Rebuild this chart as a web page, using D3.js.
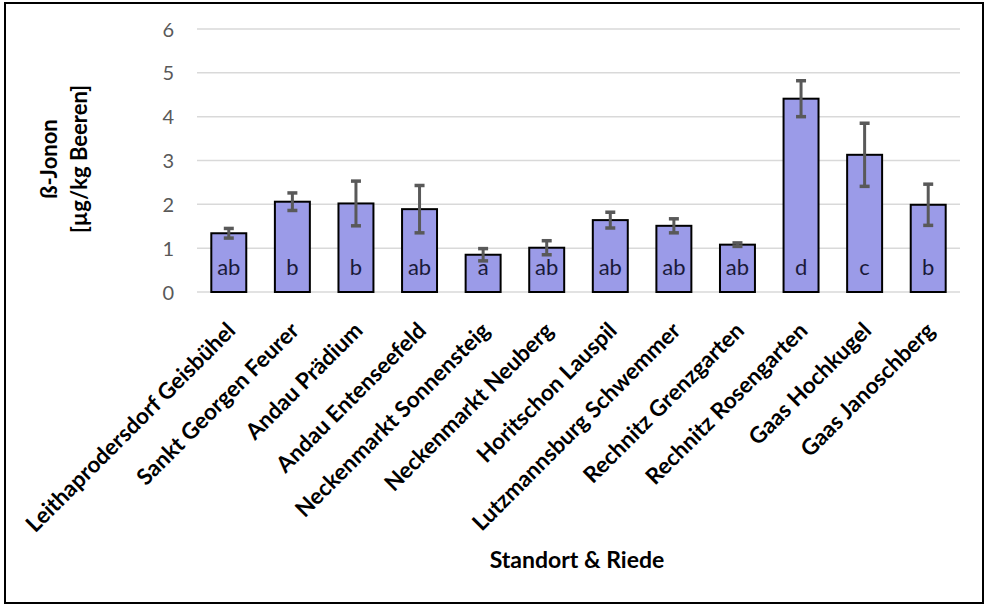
<!DOCTYPE html>
<html><head><meta charset="utf-8">
<script src="https://cdn.jsdelivr.net/npm/d3@7"></script>
<style>body{margin:0;background:#fff}</style>
</head><body>
<svg id="c" width="990" height="608"></svg>
<script>
const categories = ["Leithaprodersdorf Geisbühel","Sankt Georgen Feurer","Andau Prädium","Andau Entenseefeld","Neckenmarkt Sonnensteig","Neckenmarkt Neuberg","Horitschon Lauspil","Lutzmannsburg Schwemmer","Rechnitz Grenzgarten","Rechnitz Rosengarten","Gaas Hochkugel","Gaas Janoschberg"];
const values = [1.34, 2.06, 2.02, 1.89, 0.85, 1.01, 1.64, 1.51, 1.08, 4.41, 3.13, 1.99];
const errors = [0.11, 0.20, 0.51, 0.54, 0.14, 0.16, 0.18, 0.16, 0.04, 0.41, 0.72, 0.47];
const letters = ["ab","b","b","ab","a","ab","ab","ab","ab","d","c","b"];
const yTicks = [0,1,2,3,4,5,6];
const yTitle = ["ß-Jonon","[µg/kg Beeren]"];
const xTitle = "Standort & Riede";

const FONT = "Lato, 'Open Sans', sans-serif";
const svg = d3.select("#c");
const L = 197, R = 960, T = 29, B = 292;

svg.append("rect").attr("x",5).attr("y",3).attr("width",978).attr("height",600)
  .attr("fill","#fff").attr("stroke","#000").attr("stroke-width",2);

const x = d3.scaleBand().domain(categories).range([L,R]).paddingInner(0.45).paddingOuter(0.225);
const y = d3.scaleLinear().domain([0,6]).range([B,T]);

// gridlines
svg.append("g").selectAll("line").data(yTicks).join("line")
  .attr("x1",L).attr("x2",R).attr("y1",d=>y(d)).attr("y2",d=>y(d))
  .attr("stroke","#d9d9d9").attr("stroke-width",1.5);

// y tick labels
const yAxis = d3.axisLeft(y).tickValues(yTicks).tickSize(0).tickPadding(0).tickFormat(d3.format("d"));
const ya = svg.append("g").attr("transform",`translate(${L-23},0)`).call(yAxis);
ya.select(".domain").remove();
ya.selectAll("text").attr("font-family",FONT).attr("font-size",20).attr("fill","#595959").attr("dy","0.35em");

// bars
svg.append("g").selectAll("rect").data(values).join("rect")
  .attr("x",(d,i)=>x(categories[i])).attr("width",x.bandwidth())
  .attr("y",d=>y(d)).attr("height",d=>y(0)-y(d))
  .attr("fill","#9b9be8").attr("stroke","#000").attr("stroke-width",2);

// letters
svg.append("g").selectAll("text").data(letters).join("text")
  .attr("x",(d,i)=>x(categories[i])+x.bandwidth()/2).attr("y",275)
  .attr("text-anchor","middle").attr("font-family",FONT).attr("font-size",22)
  .attr("fill","#1a1a3a").text(d=>d);

// error bars
const eg = svg.append("g").attr("stroke","#595959");
values.forEach((v,i)=>{
  const cx = x(categories[i])+x.bandwidth()/2;
  const e = errors[i];
  eg.append("line").attr("x1",cx).attr("x2",cx).attr("y1",y(v+e)).attr("y2",y(v-e)).attr("stroke-width",3);
  [v+e, v-e].forEach(t=>{
    eg.append("line").attr("x1",cx-5).attr("x2",cx+5).attr("y1",y(t)).attr("y2",y(t)).attr("stroke-width",3.5);
  });
});

// x labels
svg.append("g").selectAll("text").data(categories).join("text")
  .attr("transform",d=>`translate(${x(d)+x.bandwidth()/2+8},332) rotate(-45)`)
  .attr("text-anchor","end").attr("font-family",FONT).attr("font-size",22.5).attr("font-weight","bold")
  .attr("fill","#000").text(d=>d);

// x title
svg.append("text").attr("x",577).attr("y",568).attr("text-anchor","middle")
  .attr("font-family",FONT).attr("font-size",23).attr("font-weight","bold").text(xTitle);

// y title
const yt = svg.append("text").attr("transform","translate(57,159) rotate(-90)")
  .attr("text-anchor","middle").attr("font-family",FONT).attr("font-size",22).attr("font-weight","bold");
yt.selectAll("tspan").data(yTitle).join("tspan").attr("x",0).attr("y",(d,i)=>i*30).text(d=>d);
</script>
</body></html>
